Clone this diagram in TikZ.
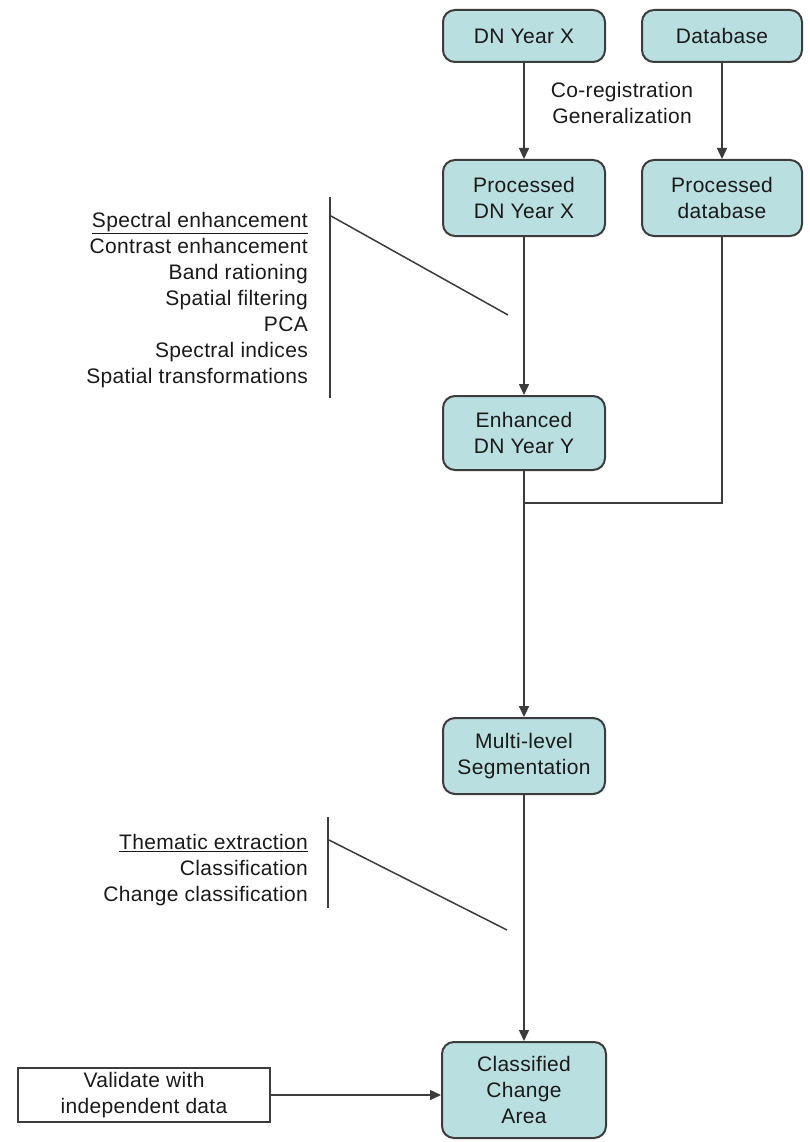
\documentclass[tikz,border=0pt]{standalone}
\usepackage{fontspec}
\setmainfont{Liberation Sans}[LetterSpace=1.5]
\usetikzlibrary{arrows.meta}
\definecolor{boxfill}{HTML}{BADFE0}
\definecolor{boxline}{HTML}{3C3C3C}
\definecolor{txt}{HTML}{1A1A1A}
\begin{document}
\begin{tikzpicture}[x=1pt,y=-1pt,
  font=\fontsize{21}{26}\selectfont, text=txt,
  proc/.style={draw=boxline, line width=2pt, fill=boxfill, rounded corners=12pt,
    align=center, inner sep=0pt, minimum width=162pt},
  plain/.style={draw=boxline, line width=2pt, fill=white, align=center, inner sep=0pt},
  conn/.style={draw=boxline, line width=1.5pt},
  arr/.style={conn, -{Triangle[length=11pt,width=10pt]}},
  lbl/.style={align=right, inner sep=0pt, anchor=east},
]
\useasboundingbox (0,0) rectangle (810,1142);
\fill[white] (0,0) rectangle (810,1142);

\node[proc, minimum height=52pt] (dnx) at (524,36) {DN Year X};
\node[proc, minimum height=52pt, minimum width=160pt] (db) at (722,36) {Database};
\node[proc, minimum height=76pt] (pdnx) at (524,198) {Processed\\DN Year X};
\node[proc, minimum height=76pt, minimum width=160pt] (pdb) at (722,198) {Processed\\database};
\node[proc, minimum height=74pt] (enh) at (524,433) {Enhanced\\DN Year Y};
\node[proc, minimum height=76pt] (seg) at (524,756) {Multi-level\\Segmentation};
\node[proc, minimum height=96pt, minimum width=164pt] (cls) at (524,1090) {Classified\\Change\\Area};
\node[plain, minimum width=252pt, minimum height=54pt] (val) at (144,1095) {Validate with\\independent data};

\node[align=center, inner sep=0pt] (coreg) at (622,103) {Co-registration\\Generalization};

\node[lbl] (spec) at (308,300) {\underline{Spectral enhancement}\\Contrast enhancement\\Band rationing\\Spatial filtering\\PCA\\Spectral indices\\Spatial transformations};
\node[lbl] (them) at (308,870) {\underline{Thematic extraction}\\Classification\\Change classification};

% connectors
\draw[arr] (dnx.south) -- (pdnx.north);
\draw[arr] (db.south) -- (pdb.north);
\draw[arr] (pdnx.south) -- (enh.north);
\coordinate (junc) at (524,503);
\draw[conn] (enh.south) -- (junc);
\draw[conn] (pdb.south) |- (junc);
\draw[arr, line width=2.2pt] (junc) -- (seg.north);
\draw[arr] (seg.south) -- (cls.north);
\draw[arr] (val.east) -- (val.east -| cls.west);

% bracket lines
\coordinate (b1t) at (330,197);
\coordinate (b1b) at (330,398);
\coordinate (d1s) at (331,216);
\coordinate (d1e) at (508,315);
\draw[conn] (b1t) -- (b1b);
\draw[conn] (d1s) -- (d1e);
\coordinate (b2t) at (328,817);
\coordinate (b2b) at (328,908);
\coordinate (d2s) at (329,840);
\coordinate (d2e) at (507,930);
\draw[conn] (b2t) -- (b2b);
\draw[conn] (d2s) -- (d2e);
\end{tikzpicture}
\end{document}
